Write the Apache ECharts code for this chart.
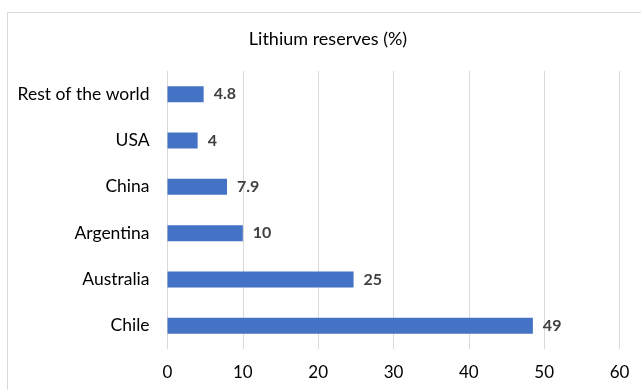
<!DOCTYPE html>
<html>
<head>
<meta charset="utf-8">
<script src="https://cdn.jsdelivr.net/npm/echarts@6/dist/echarts.min.js"></script>
<style>
html,body{margin:0;padding:0;background:#fff;}
#chart{width:641px;height:390px;}
</style>
</head>
<body>
<div id="chart"></div>
<script>
const titleText = "Lithium reserves (%)";
const categories = ["Chile", "Australia", "Argentina", "China", "USA", "Rest of the world"];
const values = [48.5, 24.7, 10, 7.9, 4, 4.8];
const valueLabels = ["49", "25", "10", "7.9", "4", "4.8"];
const xTicks = [0, 10, 20, 30, 40, 50, 60];

const FONT = "Lato";
const chart = echarts.init(document.getElementById("chart"), null, {renderer: "canvas"});
chart.setOption({
  animation: false,
  backgroundColor: "#ffffff",
  graphic: [
    {type: "rect", silent: true, z: -1,
     shape: {x: 7.5, y: 12.5, width: 700, height: 500},
     style: {fill: "#ffffff", stroke: "#d9d9d9", lineWidth: 1}},
    {type: "text", x: 328, y: 39,
     style: {text: titleText, fontFamily: FONT, fontSize: 18, fill: "#000000",
             textAlign: "center", textVerticalAlign: "middle"}}
  ],
  grid: {left: 167.5, right: 21.5, top: 71, bottom: 41, containLabel: false},
  xAxis: {
    type: "value",
    min: xTicks[0], max: xTicks[xTicks.length - 1], interval: 10,
    axisLine: {show: false}, axisTick: {show: false},
    splitLine: {show: true, lineStyle: {color: "#d9d9d9", width: 1}},
    axisLabel: {fontFamily: FONT, fontSize: 17, color: "#000000", margin: 15}
  },
  yAxis: {
    type: "category",
    data: categories,
    axisLine: {show: false}, axisTick: {show: false},
    splitLine: {show: false},
    axisLabel: {fontFamily: FONT, fontSize: 17.5, color: "#000000", margin: 18}
  },
  series: [{
    type: "bar",
    data: values,
    barWidth: 16,
    itemStyle: {color: "#4472C4"},
    label: {
      show: true, position: "right", distance: 10,
      fontFamily: FONT, fontSize: 16, fontWeight: "bold", color: "#404040",
      formatter: p => valueLabels[p.dataIndex]
    }
  }]
});
</script>
</body>
</html>
